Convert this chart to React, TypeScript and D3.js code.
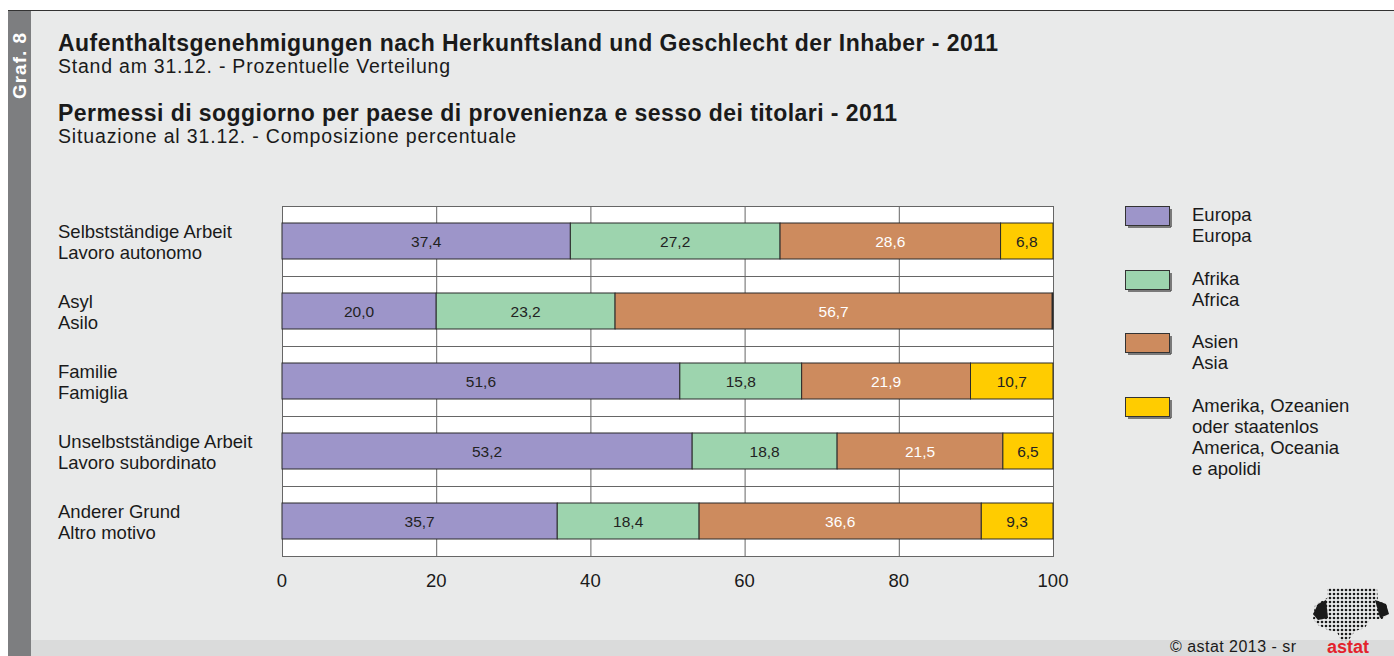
import { useEffect, useRef } from "react";
import * as d3 from "d3";

const categories = [
  ["Selbstständige Arbeit", "Lavoro autonomo"],
  ["Asyl", "Asilo"],
  ["Familie", "Famiglia"],
  ["Unselbstständige Arbeit", "Lavoro subordinato"],
  ["Anderer Grund", "Altro motivo"],
];
const europa = [37.4, 20.0, 51.6, 53.2, 35.7];
const afrika = [27.2, 23.2, 15.8, 18.8, 18.4];
const asien = [28.6, 56.7, 21.9, 21.5, 36.6];
const amerika = [6.8, 0.1, 10.7, 6.5, 9.3];
const seriesNames = [
  ["Europa", "Europa"],
  ["Afrika", "Africa"],
  ["Asien", "Asia"],
  ["Amerika, Ozeanien", "oder staatenlos", "America, Oceania", "e apolidi"],
];
const colors = ["#9d95c9", "#9dd4ae", "#cd8b5e", "#ffcc00"];
const labelColors = ["#222", "#222", "#fff", "#222"];
const ticks = [0, 20, 40, 60, 80, 100];

const FONT = "Liberation Sans, Arial, sans-serif";

const App = () => {
  const svgRef = useRef<SVGSVGElement>(null);

  useEffect(() => {
    const width = 1394;
    const height = 656;
    const svg = d3.select(svgRef.current);
    svg.selectAll("*").remove();

    // background and frame
    svg.append("rect").attr("width", width).attr("height", height).attr("fill", "#fff");
    svg.append("rect").attr("x", 8).attr("y", 10).attr("width", width - 8).attr("height", height - 10).attr("fill", "#e9eaea");
    svg.append("rect").attr("x", 31).attr("y", 640).attr("width", width - 31).attr("height", 16).attr("fill", "#dadbdb");
    svg.append("line").attr("x1", 8).attr("x2", width).attr("y1", 10.5).attr("y2", 10.5).attr("stroke", "#333").attr("stroke-width", 1);
    svg.append("rect").attr("x", 8).attr("y", 11).attr("width", 23).attr("height", height - 11).attr("fill", "#7d7e80");
    svg.append("text")
      .attr("transform", "translate(26,66) rotate(-90)")
      .attr("text-anchor", "middle")
      .attr("font-family", FONT).attr("font-weight", "bold").attr("font-size", 19)
      .attr("textLength", 66).attr("lengthAdjust", "spacing")
      .attr("fill", "#fff").text("Graf. 8");

    // titles (widths)
    const titles = [
      { t: "Aufenthaltsgenehmigungen nach Herkunftsland und Geschlecht der Inhaber - 2011", y: 51, b: true, w: 940 },
      { t: "Stand am 31.12. - Prozentuelle Verteilung", y: 73, b: false, w: 392 },
      { t: "Permessi di soggiorno per paese di provenienza e sesso dei titolari - 2011", y: 121, b: true, w: 839 },
      { t: "Situazione al 31.12. - Composizione percentuale", y: 143, b: false, w: 458 },
    ];
    svg.selectAll("text.title").data(titles).enter().append("text")
      .attr("x", 58).attr("y", (d) => d.y)
      .attr("font-family", FONT).attr("font-size", (d) => (d.b ? 23 : 19.5))
      .attr("font-weight", (d) => (d.b ? "bold" : "normal"))
      .attr("textLength", (d) => d.w).attr("lengthAdjust", "spacing")
      .attr("fill", "#1a1a1a").text((d) => d.t);

    const margin = { left: 282, right: 1053, top: 206, bottom: 556 };
    const x = d3.scaleLinear().domain([0, 100]).range([margin.left, margin.right]);
    const y = d3.scaleBand().domain(categories.map((_, i) => String(i))).range([margin.top, margin.bottom]).paddingInner(0).paddingOuter(0);
    const barH = 36;

    const g = svg.append("g");
    g.append("rect").attr("x", margin.left).attr("y", margin.top).attr("width", margin.right - margin.left).attr("height", margin.bottom - margin.top).attr("fill", "#fff");

    // grid
    g.selectAll("line.v").data(ticks.slice(1, -1)).enter().append("line")
      .attr("x1", (d) => x(d) + 0.5).attr("x2", (d) => x(d) + 0.5)
      .attr("y1", margin.top).attr("y2", margin.bottom)
      .attr("stroke", "#666").attr("stroke-width", 1);
    g.selectAll("line.h").data(categories.slice(1)).enter().append("line")
      .attr("x1", margin.left).attr("x2", margin.right)
      .attr("y1", (_, i) => y(String(i + 1))! + 0.5).attr("y2", (_, i) => y(String(i + 1))! + 0.5)
      .attr("stroke", "#666").attr("stroke-width", 1);
    g.append("rect").attr("x", margin.left + 0.5).attr("y", margin.top + 0.5)
      .attr("width", margin.right - margin.left).attr("height", margin.bottom - margin.top)
      .attr("fill", "none").attr("stroke", "#666");

    // stacked bars
    const series = [europa, afrika, asien, amerika];
    categories.forEach((_, ci) => {
      let acc = 0;
      series.forEach((s, si) => {
        const v = s[ci];
        const x0 = x(acc);
        const x1 = x(acc + v);
        const yy = y(String(ci))! + (y.bandwidth() - barH) / 2;
        g.append("rect").attr("x", x0).attr("y", yy).attr("width", x1 - x0).attr("height", barH)
          .attr("fill", colors[si]).attr("stroke", "#2a2a2a").attr("stroke-width", 1);
        if (v >= 1) {
          g.append("text").attr("x", (x0 + x1) / 2).attr("y", yy + barH / 2 + 5.5)
            .attr("text-anchor", "middle").attr("font-family", FONT).attr("font-size", 15.5)
            .attr("fill", labelColors[si]).text(d3.format(".1f")(v).replace(".", ","));
        }
        acc += v;
      });
    });

    // category labels
    categories.forEach((c, ci) => {
      const cy = y(String(ci))! + y.bandwidth() / 2;
      c.forEach((line, li) => {
        svg.append("text").attr("x", 58).attr("y", cy - 3.5 + li * 21)
          .attr("font-family", FONT).attr("font-size", 18.5).attr("fill", "#1a1a1a").text(line);
      });
    });

    // x axis labels
    svg.selectAll("text.tick").data(ticks).enter().append("text")
      .attr("x", (d) => x(d)).attr("y", 587).attr("text-anchor", "middle")
      .attr("font-family", FONT).attr("font-size", 18.5).attr("fill", "#1a1a1a").text((d) => d);

    // legend
    const legendY = [206, 270, 333, 397];
    seriesNames.forEach((names, i) => {
      svg.append("rect").attr("x", 1125.5).attr("y", legendY[i] + 0.5).attr("width", 44).attr("height", 19)
        .attr("fill", colors[i]).attr("stroke", "#333").attr("stroke-width", 1);
      svg.append("line").attr("x1", 1128).attr("x2", 1171).attr("y1", legendY[i] + 21).attr("y2", legendY[i] + 21).attr("stroke", "#555").attr("stroke-width", 1.5);
      svg.append("line").attr("x1", 1171).attr("x2", 1171).attr("y1", legendY[i] + 3).attr("y2", legendY[i] + 21).attr("stroke", "#555").attr("stroke-width", 1.5);
      names.forEach((n, li) => {
        svg.append("text").attr("x", 1192).attr("y", legendY[i] + 15 + li * 21)
          .attr("font-family", FONT).attr("font-size", 18.5).attr("fill", "#1a1a1a").text(n);
      });
    });

    // footer
    svg.append("text").attr("x", 1170).attr("y", 652).attr("font-family", FONT).attr("font-size", 16)
      .attr("textLength", 126).attr("lengthAdjust", "spacing")
      .attr("fill", "#1a1a1a").text("©  astat 2013 - sr");
    const defs = svg.append("defs");
    const pat = defs.append("pattern").attr("id", "dots").attr("width", 4).attr("height", 4).attr("patternUnits", "userSpaceOnUse");
    pat.append("circle").attr("cx", 2).attr("cy", 2).attr("r", 1.3).attr("fill", "#1a1a1a");
    svg.append("path")
      .attr("d", "M1327,588 L1377,588 L1378,601 L1386,604 L1389,614 L1382,619 L1370,619 L1365,628 L1355,631 L1348,641 L1341,641 L1337,632 L1328,630 L1318,625 L1313,619 L1315,605 L1322,601 L1327,598 Z")
      .attr("fill", "url(#dots)");
    svg.append("path")
      .attr("d", "M1318,604 L1326,600 L1328,618 L1318,620 L1313,614 Z M1375,600 L1386,604 L1389,614 L1380,618 Z")
      .attr("fill", "#1a1a1a");
    svg.append("text").attr("x", 1327).attr("y", 653).attr("font-family", FONT).attr("font-weight", "bold")
      .attr("font-size", 18).attr("fill", "#e3222b").text("astat");
  }, []);

  return (
    <svg ref={svgRef} width={1394} height={656} style={{ position: "absolute", left: 0, top: 0 }}></svg>
  );
};

export default App;
